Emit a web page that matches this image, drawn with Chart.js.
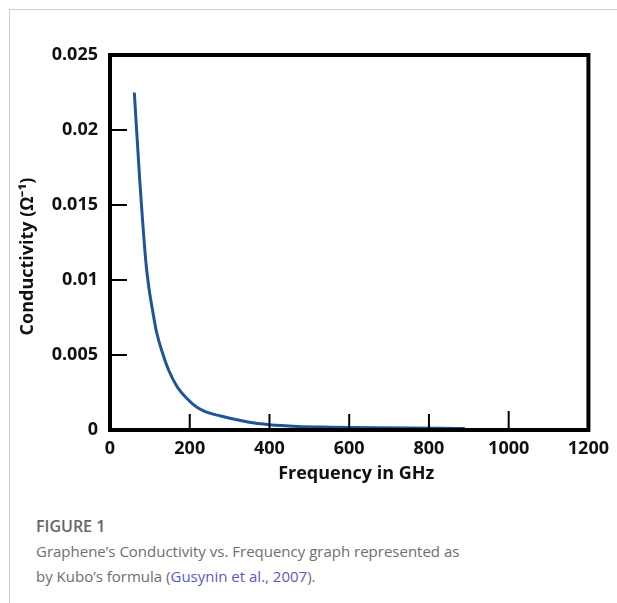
<!DOCTYPE html>
<html>
<head>
<meta charset="utf-8">
<script src="https://cdn.jsdelivr.net/npm/chart.js@4"></script>
<style>
  body { margin: 0; background: #fff; width: 617px; height: 603px; overflow: hidden; position: relative; }
  .frame { position: absolute; left: 9px; top: 9px; right: -5px; bottom: -5px; border-left: 1px solid #cfcfcf; border-top: 1px solid #cfcfcf; }
  #chart { position: absolute; left: 0; top: 0; }
  .caption { position: absolute; left: 36px; top: 514px; font-family: "Open Sans", sans-serif; color: #6e6e6e; font-size: 15px; line-height: 25px; }
  .caption b { font-weight: 600; font-size: 16px; color: #666; }
  .caption a { color: #5a5cc0; text-decoration: none; }
</style>
</head>
<body>
<div class="frame"></div>
<canvas id="chart" width="617" height="500"></canvas>
<div class="caption">
  <b>FIGURE 1</b><br>
  Graphene’s Conductivity vs. Frequency graph represented as<br>
  by Kubo’s formula (<a>Gusynin et al., 2007</a>).
</div>
<script>
// values
const freqGHz = [61, 74, 90, 98, 106, 117, 131, 147, 168, 193, 219, 248, 275, 346, 400, 470, 551, 667, 830, 890];
const conductivity = [0.0225, 0.0169, 0.0112, 0.0094, 0.0081, 0.0065, 0.0052, 0.004, 0.0029, 0.0021, 0.0015, 0.00114, 0.00095, 0.00053, 0.00035, 0.00024, 0.00019, 0.00015, 0.00012, 0.0001];
const xTicks = [0, 200, 400, 600, 800, 1000, 1200];
const yTicks = [0, 0.005, 0.01, 0.015, 0.02, 0.025];

const points = freqGHz.map((f, i) => ({ x: f, y: conductivity[i] }));
const tickFont = { family: 'Open Sans', weight: 'bold', size: 18 };
const titleFont = { family: 'Open Sans', weight: 'bold', size: 18 };
const pad = '\u00a0';

// black frame round the plot plus short inward tick marks
const framePlugin = {
  id: 'frame',
  afterDraw(chart) {
    const ctx = chart.ctx;
    const a = chart.chartArea;
    const xs = chart.scales.x, ys = chart.scales.y;
    ctx.save();
    ctx.strokeStyle = '#000';
    ctx.lineWidth = 2;
    xTicks.slice(1, -1).forEach(v => {
      const px = xs.getPixelForValue(v);
      ctx.beginPath();
      ctx.moveTo(px, a.bottom);
      ctx.lineTo(px, a.bottom - (v === 1000 ? 19 : 16));
      ctx.stroke();
    });
    yTicks.slice(1, -1).forEach(v => {
      const py = ys.getPixelForValue(v);
      ctx.beginPath();
      ctx.moveTo(a.left, py);
      ctx.lineTo(a.left + 17, py);
      ctx.stroke();
    });
    ctx.lineWidth = 4;
    ctx.strokeRect(a.left, a.top, a.right - a.left, a.bottom - a.top);
    ctx.restore();
  }
};

new Chart(document.getElementById('chart'), {
  type: 'line',
  data: {
    datasets: [{
      data: points,
      borderColor: '#1f5596',
      borderWidth: 3,
      pointRadius: 0,
      fill: false,
      cubicInterpolationMode: 'monotone'
    }]
  },
  options: {
    responsive: false,
    animation: false,
    layout: { padding: { top: 55, right: 21, left: 0, bottom: 0 } },
    plugins: { legend: { display: false }, tooltip: { enabled: false } },
    scales: {
      x: {
        type: 'linear',
        min: 0, max: 1200,
        afterFit(scale) { scale.height = 70; },
        afterBuildTicks(scale) { scale.ticks = xTicks.map(v => ({ value: v })); },
        grid: { display: false, drawTicks: false },
        border: { display: false },
        ticks: { color: '#111', font: tickFont, padding: 8, maxRotation: 0, callback: v => String(v) },
        title: { display: true, text: pad.repeat(3) + 'Frequency in GHz', color: '#111', font: titleFont, padding: { top: 0, bottom: 15 } }
      },
      y: {
        min: 0, max: 0.025,
        afterFit(scale) { scale.width = 110; },
        afterBuildTicks(scale) { scale.ticks = yTicks.map(v => ({ value: v })); },
        grid: { display: false, drawTicks: false },
        border: { display: false },
        ticks: { color: '#111', font: tickFont, padding: 12, callback: v => String(+v.toFixed(3)) },
        title: { display: true, text: 'Conductivity (Ω⁻¹)' + pad.repeat(6), color: '#111', font: titleFont, padding: { top: 17, bottom: 0 } }
      }
    }
  },
  plugins: [framePlugin]
});
</script>
</body>
</html>
